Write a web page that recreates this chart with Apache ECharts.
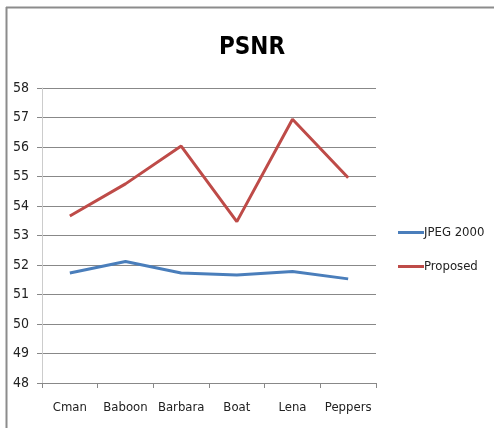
<!DOCTYPE html>
<html><head><meta charset="utf-8">
<script src="https://cdn.jsdelivr.net/npm/echarts@6/dist/echarts.min.js"></script>
<style>html,body{margin:0;padding:0;background:#fff}#c{width:494px;height:428px}</style>
</head><body><div id="c"></div>
<script>
const categories = ['Cman','Baboon','Barbara','Boat','Lena','Peppers'];
const jpeg2000 = [51.73, 52.12, 51.73, 51.66, 51.78, 51.53];
const proposed = [53.66, 54.75, 56.03, 53.47, 56.94, 54.96];
const yTicks = {min: 48, max: 58, interval: 1};
const FONT = '"DejaVu Sans Condensed", "Liberation Sans Narrow", "Open Sans", sans-serif';
const chart = echarts.init(document.getElementById('c'));
chart.setOption({
  animation: false,
  graphic: [
    {type:'line', shape:{x1:6, y1:7.5, x2:494, y2:7.5}, style:{stroke:'#8c8c8c', lineWidth:2}},
    {type:'line', shape:{x1:6.5, y1:7, x2:6.5, y2:428}, style:{stroke:'#8c8c8c', lineWidth:2}}
  ],
  title: {text:'PSNR', left:247, textAlign:'center', top:31,
    textStyle:{fontFamily:FONT, fontSize:24, fontWeight:'bold', color:'#000'}},
  legend: {orient:'vertical', left:393, top:221, itemWidth:26, itemHeight:3, itemGap:21,
    icon:'rect', textStyle:{fontFamily:FONT, fontSize:13, color:'#222', padding:[0,0,0,-5]},
    data:['JPEG 2000','Proposed']},
  grid: {left:42, right:118, top:88, bottom:45, containLabel:false},
  xAxis: {type:'category', data:categories, boundaryGap:true,
    axisLine:{lineStyle:{color:'#888', width:1}},
    axisTick:{show:true, length:5, lineStyle:{color:'#888'}},
    axisLabel:{fontFamily:FONT, fontSize:13, color:'#222', margin:18, interval:0}},
  yAxis: {type:'value', min:yTicks.min, max:yTicks.max, interval:yTicks.interval,
    axisLine:{show:true, lineStyle:{color:'#ccc', width:1}},
    axisTick:{show:true, length:5, lineStyle:{color:'#888'}},
    splitLine:{lineStyle:{color:'#888', width:1}},
    axisLabel:{fontFamily:FONT, fontSize:14, color:'#222', margin:13}},
  series: [
    {name:'JPEG 2000', type:'line', data:jpeg2000, showSymbol:false, symbol:'none',
      lineStyle:{color:'#4a7ebb', width:3}, itemStyle:{color:'#4a7ebb'}},
    {name:'Proposed', type:'line', data:proposed, showSymbol:false, symbol:'none',
      lineStyle:{color:'#be4b48', width:3}, itemStyle:{color:'#be4b48'}}
  ]
});
</script></body></html>
